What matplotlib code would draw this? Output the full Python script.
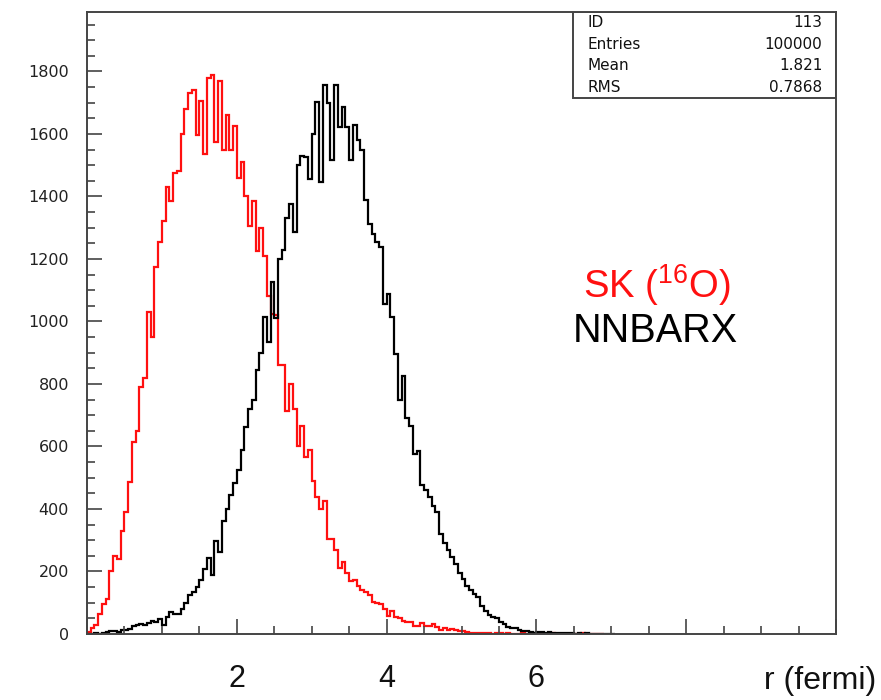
import matplotlib
matplotlib.use("Agg")
import matplotlib.pyplot as plt
import numpy as np
from matplotlib.patches import Rectangle
from matplotlib.ticker import MultipleLocator

# histogram bin width (fermi), bins start at r = 0
bin_width = 0.05

# SK (16O) radial distribution, counts per bin
sk_counts = [
    5, 18, 30, 65, 95, 112, 200, 250, 240, 330,
    390, 485, 615, 650, 790, 820, 1030, 950, 1175, 1255,
    1320, 1430, 1385, 1475, 1480, 1600, 1680, 1730, 1740, 1595,
    1705, 1535, 1780, 1790, 1575, 1770, 1550, 1660, 1550, 1625,
    1460, 1510, 1400, 1305, 1385, 1225, 1300, 1210, 1080, 1025,
    1020, 860, 860, 715, 800, 720, 600, 665, 565, 590,
    490, 437, 400, 427, 305, 305, 270, 210, 230, 195,
    170, 172, 155, 140, 135, 125, 102, 100, 95, 80,
    58, 75, 53, 50, 43, 37, 37, 27, 25, 34,
    27, 27, 32, 21, 13, 19, 13, 15, 12, 9,
    9, 6, 4, 4, 3, 4, 2, 3, 1, 2,
    3, 1, 2, 1, 0, 1, 2, 0, 1, 0,
    1, 0, 0, 1, 2, 0, 1, 0, 0, 1,
    0, 1, 2, 0, 1, 0, 0, 1,
]

# NNBARX radial distribution, counts per bin
nnbarx_counts = [
    1, 0, 2, 1, 3, 6, 8, 10, 6, 12,
    12, 16, 24, 28, 32, 30, 35, 41, 38, 47,
    30, 53, 70, 65, 65, 79, 100, 124, 135, 149,
    173, 208, 244, 190, 298, 262, 363, 400, 446, 482,
    524, 589, 661, 720, 750, 845, 900, 1013, 935, 1125,
    1010, 1200, 1230, 1330, 1376, 1285, 1499, 1528, 1525, 1456,
    1600, 1701, 1445, 1755, 1700, 1515, 1755, 1621, 1685, 1621,
    1515, 1627, 1579, 1547, 1387, 1312, 1280, 1253, 1237, 1056,
    1088, 1013, 896, 750, 827, 690, 667, 576, 585, 478,
    460, 437, 410, 389, 320, 290, 270, 245, 225, 195,
    175, 155, 140, 128, 118, 90, 75, 60, 55, 50,
    37, 32, 23, 19, 19, 13, 11, 9, 6, 4,
    7, 5, 4, 5, 4, 3, 3, 2, 2, 3,
    1, 2, 1, 2, 1, 0, 1, 1, 0, 1,
    0,
]

stats_labels = ["ID", "Entries", "Mean", "RMS"]
stats_values = ["113", "100000", "1.821", "0.7868"]

x_label_ticks = [2, 4, 6]

frame_col = "#444444"

fig = plt.figure(figsize=(8.81, 7.0), dpi=100)
ax = fig.add_axes([87 / 881, 1 - 634 / 700, 749 / 881, 622 / 700])

sk_edges = np.arange(len(sk_counts) + 1) * bin_width
nn_edges = np.arange(len(nnbarx_counts) + 1) * bin_width
ax.stairs(sk_counts, sk_edges, color="#ff1010", lw=1.6)
ax.stairs(nnbarx_counts, nn_edges, color="black", lw=1.6)

ax.set_xlim(0, 10)
ax.set_ylim(0, 1990)

for side in ["left", "bottom", "right", "top"]:
    ax.spines[side].set_color(frame_col)
    ax.spines[side].set_linewidth(1.4)

ax.yaxis.set_major_locator(MultipleLocator(200))
ax.yaxis.set_minor_locator(MultipleLocator(50))
ax.xaxis.set_major_locator(MultipleLocator(2))
ax.xaxis.set_minor_locator(MultipleLocator(0.5))
ax.tick_params(axis="y", which="major", direction="in", length=11, width=1.2,
               color=frame_col, pad=13, labelsize=11.5, labelcolor="#222222")
ax.tick_params(axis="y", which="minor", direction="in", length=6, width=1.2,
               color=frame_col)
ax.tick_params(axis="x", which="major", direction="in", length=11, width=1.2,
               color=frame_col, labelbottom=False)
ax.tick_params(axis="x", which="minor", direction="in", length=6, width=1.2,
               color=frame_col)
for lab in ax.get_yticklabels():
    lab.set_fontfamily("DejaVu Sans")

# big slide-style axis labels
big_font = dict(family="Liberation Sans", fontsize=22, color="#111111")
for xv in x_label_ticks:
    ax.text(xv, -0.073, str(xv), transform=ax.get_xaxis_transform(),
            ha="center", va="center", **big_font)
fig.text(820 / 881, 1 - 681 / 700, "r (fermi)", ha="center", va="center",
         family="Liberation Sans", fontsize=23, color="#111111")

# legend-like labels
fig.text(583 / 881, 1 - 285 / 700, r"SK ($\mathregular{^{16}}$O)",
         ha="left", va="center", family="Liberation Sans", fontsize=27.5,
         color="#ff1010")
fig.text(573 / 881, 1 - 331 / 700, "NNBARX", ha="left", va="center",
         family="Liberation Sans", fontsize=28.5, color="black")

# statistics box
bx0 = (573 - 87) / 749
by0 = (634 - 98) / 622
ax.add_patch(Rectangle((bx0, by0), 1 - bx0, 1 - by0, transform=ax.transAxes,
                       fill=False, edgecolor=frame_col, lw=1.4, zorder=5))
row_h = (1 - by0) / 4
for i, (lab, val) in enumerate(zip(stats_labels, stats_values)):
    yy = 1 - row_h * (i + 0.5)
    ax.text(bx0 + 0.019, yy, lab, transform=ax.transAxes, ha="left",
            va="center", fontsize=11, color="#111111")
    ax.text(0.982, yy, val, transform=ax.transAxes, ha="right",
            va="center", fontsize=11, color="#111111")

fig.savefig("out.png", dpi=100)
